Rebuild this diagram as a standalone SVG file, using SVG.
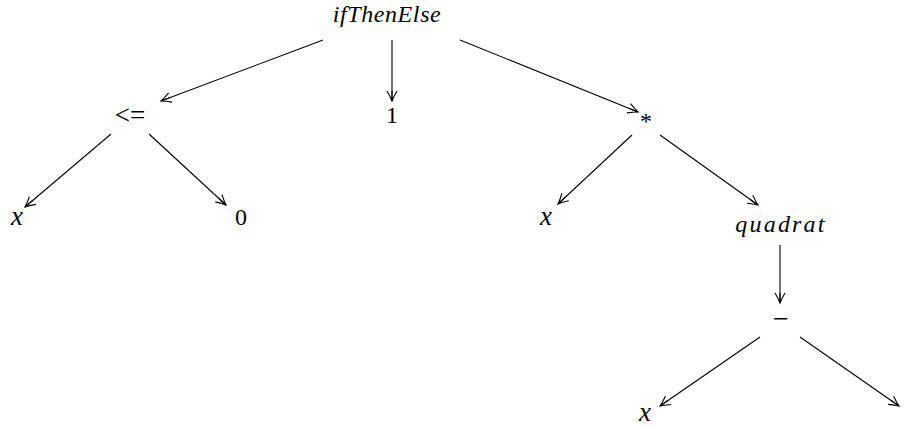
<svg xmlns="http://www.w3.org/2000/svg" width="910" height="427" viewBox="0 0 910 427">
<style>
.t{font-family:"Liberation Serif","DejaVu Serif",serif;font-size:24px;fill:#000;text-anchor:middle}
.i{font-style:italic}
.v{font-size:27px}
.e{stroke:#000;stroke-width:1.1;fill:none;marker-end:url(#ah)}
</style>
<defs>
<marker id="ah" viewBox="-12 -6 14 12" markerWidth="14" markerHeight="12" refX="0" refY="0" orient="auto" markerUnits="userSpaceOnUse">
<path d="M-10,-5 Q-4,-1.5 0,0 Q-4,1.5 -10,5 M-10,0 L0,0" stroke="#000" stroke-width="1.1" fill="none"/>
</marker>
</defs>
<rect width="910" height="427" fill="#fff"/>
<g id="edges">
<line class="e" x1="323" y1="40" x2="161" y2="101"/>
<line class="e" x1="392" y1="40" x2="392" y2="101"/>
<line class="e" x1="460" y1="40" x2="638" y2="112"/>
<line class="e" x1="111" y1="134" x2="25" y2="207"/>
<line class="e" x1="149" y1="134" x2="226" y2="205"/>
<line class="e" x1="632" y1="135" x2="558" y2="204"/>
<line class="e" x1="660" y1="135" x2="758" y2="205"/>
<line class="e" x1="780" y1="245" x2="780" y2="303"/>
<line class="e" x1="760" y1="337" x2="660" y2="406"/>
<line class="e" x1="800" y1="337" x2="899" y2="406"/>
</g>
<g id="n-ifThenElse"><text class="t i" x="387" y="22" style="letter-spacing:0.6px">ifThenElse</text></g>
<g id="n-le"><text class="t" x="130" y="124" style="font-size:27px">&lt;=</text></g>
<g id="n-one"><text class="t" x="392" y="123">1</text></g>
<g id="n-times"><text class="t" x="646" y="129">*</text></g>
<g id="n-x1"><text class="t i v" x="17" y="225">x</text></g>
<g id="n-zero"><text class="t" x="241" y="225">0</text></g>
<g id="n-x2"><text class="t i v" x="546" y="225">x</text></g>
<g id="n-quadrat"><text class="t i" x="781" y="232" style="letter-spacing:2.2px">quadrat</text></g>
<g id="n-minus"><text class="t" x="781" y="328" style="font-size:28px">−</text></g>
<g id="n-x3"><text class="t i v" x="645" y="421">x</text></g>
</svg>
